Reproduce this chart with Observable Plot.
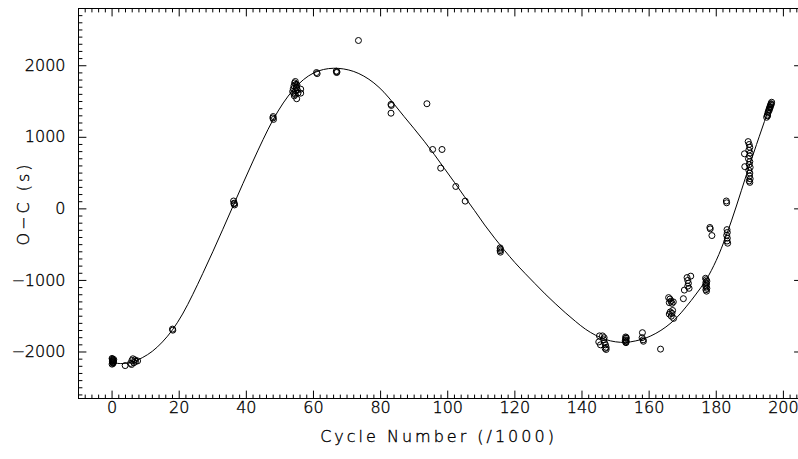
<!DOCTYPE html>
<html><head><meta charset="utf-8">
<script src="https://cdn.jsdelivr.net/npm/d3@7"></script>
<script src="https://cdn.jsdelivr.net/npm/@observablehq/plot@0.6"></script>
<style>
body{margin:0;background:#fff;}
g[aria-label="text"] text{letter-spacing:3px;}
svg text{stroke:#000;stroke-width:0.35px;}
</style></head><body><div id="chart"></div>
<script>
// Fitted curve
const curveX = [0,3,6,9,12,15,18,21,24,27,30,33,36,39,42,45,48,51,54,57,60,63,66,69,72,75,78,81,84,87,90,93,96,99,102,105,108,111,114,117,120,123,126,129,132,135,138,141,144,147,150,153,156,159,162,165,168,171,174,177,180,183,186,189,192,195,196.3];
const curveY = [-2150,-2162,-2140,-2080,-1990,-1860,-1690,-1470,-1200,-905,-600,-285,35,355,668,970,1248,1480,1665,1805,1898,1948,1965,1955,1920,1855,1760,1630,1465,1290,1120,945,760,565,370,170,-25,-225,-410,-585,-750,-900,-1045,-1188,-1322,-1450,-1570,-1680,-1765,-1825,-1858,-1865,-1845,-1805,-1740,-1650,-1530,-1370,-1190,-990,-720,-370,40,480,900,1310,1490];

// Observed timings
const obsX = [
  0,0.1,0.2,0.3,0.1,0.4,0.2,0.3,0,0.5,0.4,0.2,
  3.9,
  5.5,5.9,6.2,6.5,5.8,7,7.6,6.8,
  18,18.1,
  36.2,36.4,36.5,36.3,
  48,48.1,47.9,
  53.8,54,54.2,54.4,54.6,54.8,55,55.2,55.4,54.5,54.3,54.7,55.1,54.1,54.9,56.2,56.2,55,
  60.9,61.1,
  66.8,66.9,67,
  73.4,
  83.1,83.2,83.1,
  93.8,
  95.5,98.3,97.9,102.4,105.2,
  115.6,115.7,115.6,115.7,
  145.2,146.1,146.6,145.0,145.5,146.5,146.7,147.0,147.2,147.2,146.9,
  153,153.1,153,153.2,153.1,152.9,153.2,153,
  158,157.9,158.2,158.3,
  163.4,
  165.8,166.2,166.5,166.0,166.8,167.2,166.3,166.0,166.6,167.0,167.3,166.8,
  170.2,
  170.5,171.3,171.5,171.7,171.5,172.4,171.9,
  176.8,177,177.2,176.9,177.1,176.8,177,177.2,176.9,177.1,
  178.1,178.2,178.7,
  183.2,183.3,183.1,183.3,183.2,183.4,183,183.1,
  188.4,188.5,189.5,189.8,190,189.7,190.1,189.9,189.6,190,189.8,190.1,189.7,190,189.9,190.1,189.8,190,
  195,195.2,195.4,195.5,195.7,195.9,196,196.2,196.3,196.5,195.3,195.8,196.1,196.4
];
const obsY = [
  -2090,-2100,-2110,-2120,-2130,-2140,-2150,-2160,-2170,-2105,-2125,-2145,
  -2190,
  -2160,-2120,-2095,-2150,-2175,-2130,-2125,-2110,
  -1680,-1695,
  110,80,55,70,
  1290,1250,1270,
  1640,1680,1720,1760,1780,1740,1700,1660,1620,1600,1580,1650,1730,1620,1690,1673,1617,1539,
  1905,1890,
  1925,1905,1915,
  2353,
  1460,1445,1337,
  1469,
  830,830,569,313,108,
  -545,-565,-585,-605,
  -1775,-1775,-1800,-1860,-1900,-1830,-1870,-1900,-1935,-1965,-1950,
  -1790,-1810,-1830,-1850,-1870,-1840,-1800,-1860,
  -1730,-1800,-1830,-1850,
  -1960,
  -1240,-1260,-1290,-1310,-1320,-1300,-1440,-1470,-1500,-1420,-1530,-1460,
  -1255,
  -1135,-960,-1000,-1040,-1080,-940,-1110,
  -970,-990,-1010,-1030,-1050,-1070,-1090,-1110,-1130,-1150,
  -260,-280,-373,
  -290,-330,-370,-410,-450,-480,110,85,
  770,590,940,900,860,820,780,740,700,660,620,580,540,500,460,420,390,370,
  1280,1310,1340,1360,1390,1410,1430,1450,1470,1490,1300,1380,1420,1460
];

const xTickLabels = [0,20,40,60,80,100,120,140,160,180,200];
const yTickLabels = [-2000,-1000,0,1000,2000];
const xTitle = "Cycle Number (/1000)";
const yTitle = "O\u2212C (s)";

const xDomain = [-10, 204.5];
const yDomain = [-2650, 2800];

const W = 798, H = 459, ML = 78, MR = 0, MT = 8, MB = 61;
const xPerPx = (xDomain[1] - xDomain[0]) / (W - ML - MR);
const yPerPx = (yDomain[1] - yDomain[0]) / (H - MT - MB);

const curve = curveX.map((x, i) => ({x, y: curveY[i]}));
const obs = obsX.map((x, i) => ({x, y: obsY[i]}));

const xMajor = xTickLabels;
const xMinor = d3.range(-10, 205, 2).filter(v => v % 20 !== 0);
const yMajor = yTickLabels;
const yMinor = d3.range(-2600, 2801, 100).filter(v => v % 1000 !== 0);

const MAJ = 7.5, MIN = 3.5, RGT = 4;

// tick segments (two end points per tick, grouped by id), derived from the tick arrays
let tid = 0;
const segs = [];
function addX(values, yEdge, dir, len) {
  for (const v of values) { tid++; segs.push({x: v, y: yEdge, id: tid}, {x: v, y: yEdge + dir * len * yPerPx, id: tid}); }
}
function addY(values, xEdge, dir, len) {
  for (const v of values) { tid++; segs.push({x: xEdge, y: v, id: tid}, {x: xEdge + dir * len * xPerPx, y: v, id: tid}); }
}
addX(xMajor, yDomain[0], 1, MAJ); addX(xMinor, yDomain[0], 1, MIN);
addX(xMajor, yDomain[1], -1, MAJ); addX(xMinor, yDomain[1], -1, MIN);
addY(yMajor, xDomain[0], 1, MAJ); addY(yMinor, xDomain[0], 1, MIN);
addY(yMajor, xDomain[1], -1, RGT);

const chart = Plot.plot({
  width: W,
  height: H,
  marginLeft: ML,
  marginRight: MR,
  marginTop: MT,
  marginBottom: MB,
  style: {fontFamily: "DejaVu Sans", fontSize: "16px", fontWeight: 200, background: "white", color: "black"},
  x: {domain: xDomain},
  y: {domain: yDomain},
  marks: [
    Plot.ruleY([yDomain[0], yDomain[1]], {stroke: "black"}),
    Plot.ruleX([xDomain[0]], {stroke: "black"}),
    Plot.line(segs, {x: "x", y: "y", z: "id", stroke: "black", strokeWidth: 1}),
    Plot.axisX(xTickLabels, {anchor: "bottom", tickSize: 0, tickPadding: 3, label: null, tickFormat: d3.format("d"), fill: "black"}),
    Plot.axisY(yTickLabels, {anchor: "left", tickSize: 0, tickPadding: 13, label: null, tickFormat: d3.format("d"), fill: "black"}),
    Plot.line(curve, {x: "x", y: "y", curve: "catmull-rom", stroke: "black", strokeWidth: 1}),
    Plot.dot(obs, {x: "x", y: "y", r: 3, stroke: "black", fill: "none", strokeWidth: 1}),
    Plot.text([xTitle], {text: d => d, frameAnchor: "bottom", textAnchor: "middle", dy: 43, fill: "black"}),
    Plot.text([yTitle], {text: d => d, frameAnchor: "left", textAnchor: "middle", dx: -55, rotate: -90, fill: "black"})
  ]
});
document.getElementById("chart").appendChild(chart);
</script>
</body></html>
